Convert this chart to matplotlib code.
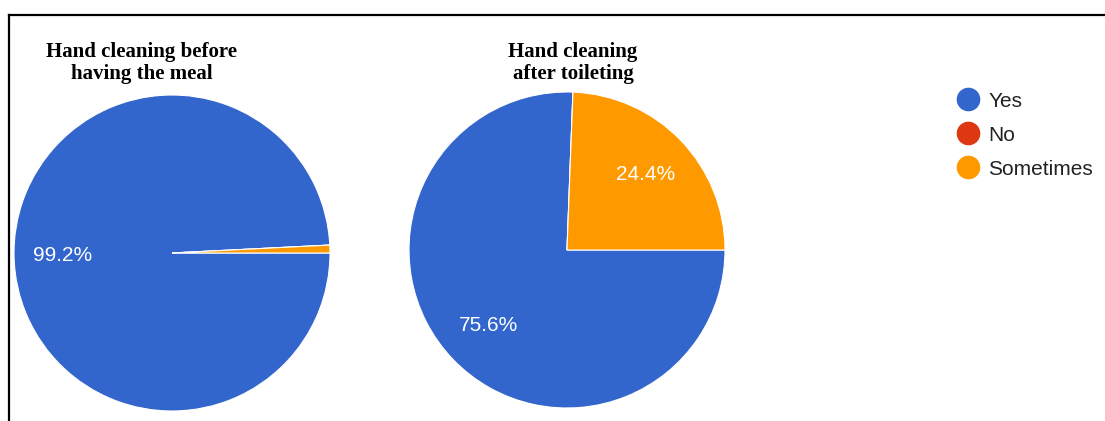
import matplotlib.pyplot as plt
from matplotlib.lines import Line2D

W, H = 1105, 421

categories = ["Yes", "No", "Sometimes"]
colors = ["#3366CC", "#DC3912", "#FF9900"]

before_meal = [99.2, 0.0, 0.8]
after_toilet = [75.6, 0.0, 24.4]

titles = ["Hand cleaning before\nhaving the meal", "Hand cleaning\nafter toileting"]


def pct(p):
    return "%.1f%%" % p if p >= 5 else ""


fig = plt.figure(figsize=(W / 100, H / 100), dpi=100)

# frame lines (top and left only)
fig.add_artist(Line2D([9 / W, 1104 / W], [1 - 15 / H, 1 - 15 / H], color="black", lw=1.6))
fig.add_artist(Line2D([9 / W, 9 / W], [0, 1 - 15 / H], color="black", lw=1.6))


def pie_axes(cx, cy, r):
    return fig.add_axes([(cx - r) / W, 1 - (cy + r) / H, 2 * r / W, 2 * r / H])


ax1 = pie_axes(172, 253, 158)
ax2 = pie_axes(567, 250, 158)

for ax, vals in [(ax1, before_meal), (ax2, after_toilet)]:
    wedges, texts, autotexts = ax.pie(
        vals, colors=colors, startangle=0, counterclock=False,
        autopct=pct, pctdistance=0.69, radius=1,
        wedgeprops=dict(edgecolor="white", linewidth=0.8),
        textprops=dict(color="white", fontsize=15, family="Liberation Sans"))
    ax.set_xlim(-1, 1)
    ax.set_ylim(-1, 1)
    ax.set_aspect("equal")
    ax.axis("off")

fig.text(142 / W, 1 - 63 / H, titles[0], ha="center", va="center",
         family="Liberation Serif", weight="bold", fontsize=15, linespacing=1.2)
fig.text(573 / W, 1 - 63 / H, titles[1], ha="center", va="center",
         family="Liberation Serif", weight="bold", fontsize=15, linespacing=1.1)

handles = [Line2D([], [], marker="o", ls="", markersize=16, markerfacecolor=c,
                  markeredgecolor=c) for c in colors]
fig.legend(handles, categories, loc="upper left", bbox_to_anchor=(937 / W, 1 - 73 / H),
           frameon=False, handletextpad=0.35, labelspacing=0.72, handlelength=1.2,
           prop=dict(family="Liberation Sans", size=15), labelcolor="#222222")

fig.savefig("out.png", dpi=100)
